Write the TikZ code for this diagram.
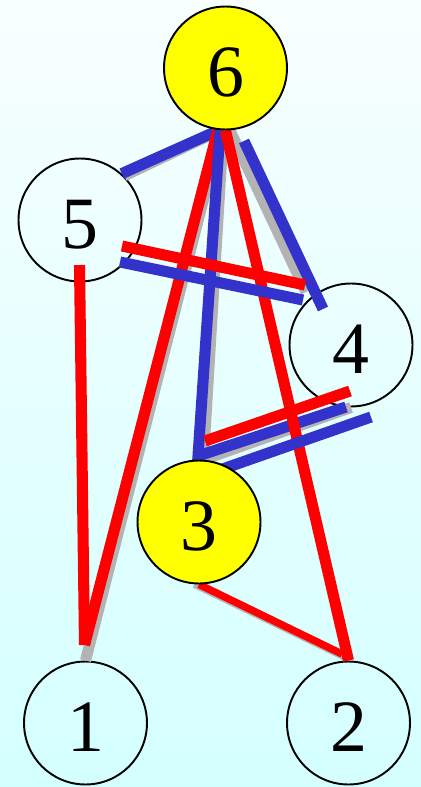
\documentclass[tikz,border=0pt]{standalone}
\usepackage{fontspec}
\setmainfont{Liberation Serif}
\definecolor{pathred}{HTML}{FF0000}
\definecolor{pathblue}{HTML}{3333CC}
\definecolor{shadowgray}{HTML}{B3B3B3}
\definecolor{hubyellow}{HTML}{FFFF00}
\definecolor{skytop}{HTML}{F8FFFF}
\definecolor{skybottom}{HTML}{D4FFFF}
\pgfdeclarelayer{back}
\pgfdeclarelayer{edges}
\pgfsetlayers{back,edges,main}
\tikzset{
  vertex/.style={
    circle,
    draw=black,
    line width=1.1pt,
    minimum size=2.46cm,
    inner sep=0pt,
    text height=1.15cm,
    text depth=0pt,
    font=\fontsize{42}{48}\selectfont
  },
  hubvertex/.style={vertex,fill=hubyellow},
  shadowedge/.style={line width=6.3pt,draw=shadowgray},
  rededge/.style={line width=6.3pt,draw=pathred},
  blueedge/.style={line width=6.3pt,draw=pathblue},
  thinedge/.style={line width=4.2pt}
}
\begin{document}
\begin{tikzpicture}[x=0.02cm,y=-0.02cm]
\useasboundingbox (0,0) rectangle (421,787);
\begin{pgfonlayer}{back}
\shade[top color=skytop,bottom color=skybottom] (0,0) rectangle (421,787);
\node[vertex] (v5) at (80,220) {5};
\node[vertex] (v4) at (351,345) {4};
\node[vertex] (v1) at (85.5,723) {1};
\node[vertex] (v2) at (348.5,723) {2};
\end{pgfonlayer}
\node[hubvertex] (v6) at (225.5,68) {6};
\node[hubvertex] (v3) at (199,522) {3};

% loose ends of the strokes
\coordinate (tip1) at (84.5,645);
\coordinate (in5) at (79.5,265);
\coordinate (bend3) at (198,456);
\coordinate (end4a) at (346,407);
\coordinate (from6) at (244,141);
\coordinate (to4) at (323,309);
\coordinate (red5) at (122,246);
\coordinate (red4) at (305,285);
\coordinate (blue5) at (120,262);
\coordinate (blue4) at (303,300);
\coordinate (red3) at (205,441);
\coordinate (red4b) at (350,391);
\coordinate (blue3) at (214,472);
\coordinate (blue4b) at (371,417);
\coordinate (tip2) at (342,654);
\coordinate (gray4) at (306,292);
\coordinate (gray2) at (345,657);

\begin{pgfonlayer}{edges}
% grey shadows
\draw[shadowedge] (v5.45) -- (v6.265);
\draw[shadowedge] (v6.266) -- (v1.north);
\draw[shadowedge] (v6.268) -- (v3.86);
\draw[shadowedge] (v6.274) -- (gray4);
\draw[shadowedge] (v3.86) -- (v4.south);
\draw[shadowedge,thinedge] (v3.266) -- (gray2);
% coloured strokes
\draw[blueedge] (v5.48) -- (v6.264);
\draw[rededge] (v6.263) -- (tip1);
\draw[rededge] (in5) -- (tip1);
\draw[blueedge] (v6.265) -- (bend3) -- (end4a);
\draw[rededge] (v6.270) -- (v2.north);
\draw[blueedge] (from6) -- (to4);
\draw[rededge] (red5) -- (red4);
\draw[blueedge] (blue5) -- (blue4);
\draw[rededge] (red3) -- (red4b);
\draw[blueedge] (blue3) -- (blue4b);
\draw[rededge,thinedge] (v3.south) -- (tip2);
\end{pgfonlayer}
\end{tikzpicture}
\end{document}
